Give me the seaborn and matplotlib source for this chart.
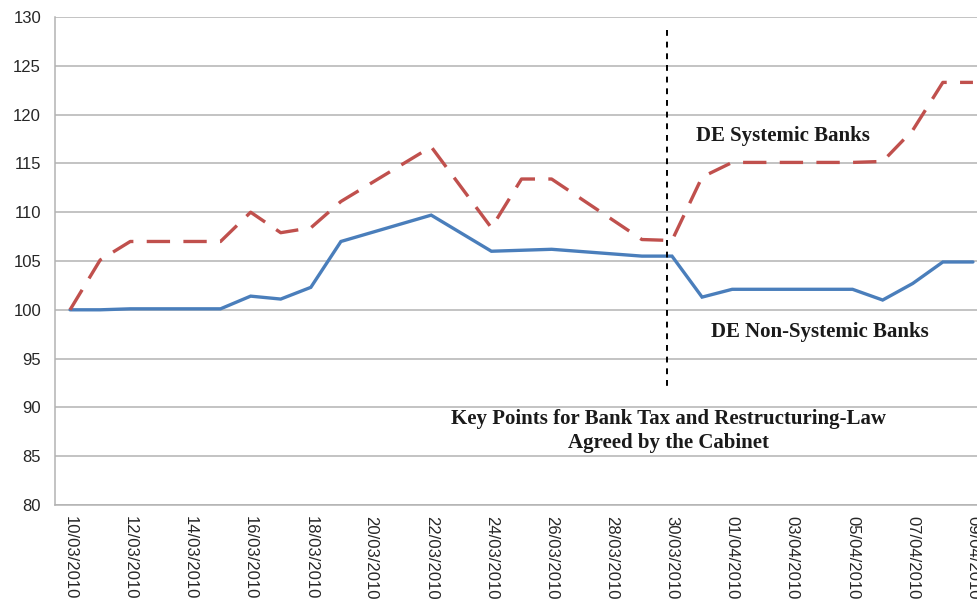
import pandas as pd
import matplotlib.pyplot as plt
import seaborn as sns

# trading days shown in the chart
dates = ["10/03/2010", "11/03/2010", "12/03/2010", "15/03/2010", "16/03/2010",
         "17/03/2010", "18/03/2010", "19/03/2010", "22/03/2010", "24/03/2010",
         "25/03/2010", "26/03/2010", "29/03/2010", "30/03/2010", "31/03/2010",
         "01/04/2010", "02/04/2010", "05/04/2010", "06/04/2010", "07/04/2010",
         "08/04/2010", "09/04/2010"]
systemic = [100, 105.1, 107.0, 107.0, 110.0, 107.9, 108.4, 111.1, 116.7, 108.4,
            113.4, 113.4, 107.2, 107.1, 113.6, 115.1, 115.1, 115.1, 115.2, 118.4,
            123.3, 123.3]
non_systemic = [100, 100, 100.1, 100.1, 101.4, 101.1, 102.3, 107.0, 109.7, 106.0,
                106.1, 106.2, 105.5, 105.5, 101.3, 102.1, 102.1, 102.1, 101.0, 102.7,
                104.9, 104.9]

# axis labels every second calendar day
tick_labels = ["10/03/2010", "12/03/2010", "14/03/2010", "16/03/2010", "18/03/2010",
               "20/03/2010", "22/03/2010", "24/03/2010", "26/03/2010", "28/03/2010",
               "30/03/2010", "01/04/2010", "03/04/2010", "05/04/2010", "07/04/2010",
               "09/04/2010"]
event_date = "30/03/2010"

sns.set_style("white")
plt.rcParams['font.family'] = ['Liberation Sans', 'DejaVu Sans']

start = pd.to_datetime(dates[0], format="%d/%m/%Y")
df = pd.DataFrame({
    'day': (pd.to_datetime(dates, format="%d/%m/%Y") - start).days,
    'systemic': systemic,
    'non_systemic': non_systemic,
})
tick_pos = (pd.to_datetime(tick_labels, format="%d/%m/%Y") - start).days
event_pos = (pd.to_datetime(event_date, format="%d/%m/%Y") - start).days - 0.15

fig = plt.figure(figsize=(9.78, 6.04), dpi=100)
ax = fig.add_axes([55 / 978, 1 - 505 / 604, 933 / 978, 488 / 604])

grid_col = '#B3B3B3'
ax.grid(axis='y', color=grid_col, linewidth=1.1)
ax.set_axisbelow(True)

sns.lineplot(data=df, x='day', y='non_systemic', ax=ax, color='#4A7EBB',
             linewidth=2.4, solid_joinstyle='miter')
sns.lineplot(data=df, x='day', y='systemic', ax=ax, color='#C0504D',
             linewidth=2.4, linestyle=(0, (7, 4)), dash_capstyle='butt')

# cabinet decision marker
ax.plot([event_pos, event_pos], [128.7, 91.8], color='black', linewidth=1.4,
        linestyle=(0, (3, 3)))

ax.set_xlim(-0.5, 30.5)
ax.set_ylim(80, 130)
ax.set_yticks(range(80, 131, 5))
ax.set_xticks(tick_pos)
ax.set_xticklabels(tick_labels, rotation=-90, fontsize=12)
ax.set_xticks([p - 0.5 for p in range(0, 31, 2)] + [29.5 + 1], minor=True)
ax.tick_params(axis='x', which='major', length=0, pad=8)
ax.tick_params(axis='x', which='minor', length=5, color=grid_col, width=1)
ax.tick_params(axis='y', length=5, color=grid_col, width=1, labelsize=12, pad=5)
ax.set_xlabel('')
ax.set_ylabel('')

for side in ['top', 'right']:
    ax.spines[side].set_visible(False)
for side in ['left', 'bottom']:
    ax.spines[side].set_color(grid_col)
    ax.spines[side].set_linewidth(1.1)

serif = dict(family=['Liberation Serif', 'DejaVu Serif'], fontweight='bold',
             fontsize=15, color='#1a1a1a')
ax.text(23.7, 117.8, 'DE Systemic Banks', ha='center', va='center', **serif)
ax.text(24.9, 97.7, 'DE Non-Systemic Banks', ha='center', va='center', **serif)
ax.text(19.9, 87.6, 'Key Points for Bank Tax and Restructuring-Law\nAgreed by the Cabinet',
        ha='center', va='center', linespacing=1.3, **serif)

fig.savefig('out.png', dpi=100)
